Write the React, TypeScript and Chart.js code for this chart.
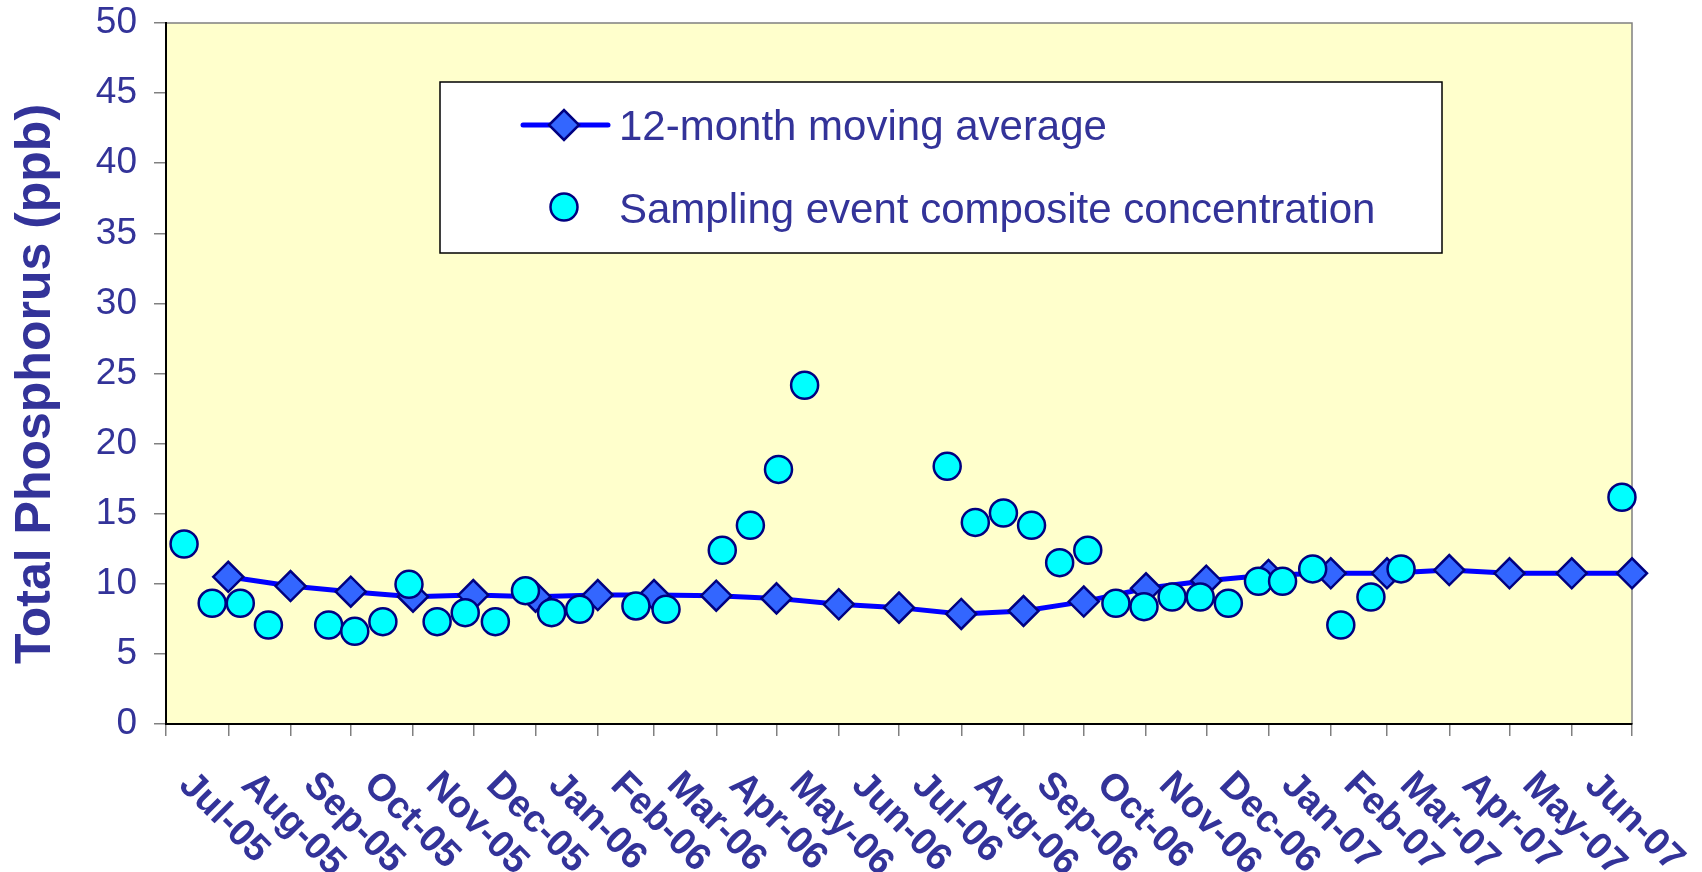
import React, { useEffect, useRef } from "react";
import { Chart, registerables } from "chart.js";

Chart.register(...registerables);

const AXIS_START = "2005-07-01";
const AXIS_END = "2007-07-01";

const monthTickDates = [
  "2005-07-01", "2005-08-01", "2005-09-01", "2005-10-01", "2005-11-01", "2005-12-01",
  "2006-01-01", "2006-02-01", "2006-03-01", "2006-04-01", "2006-05-01", "2006-06-01",
  "2006-07-01", "2006-08-01", "2006-09-01", "2006-10-01", "2006-11-01", "2006-12-01",
  "2007-01-01", "2007-02-01", "2007-03-01", "2007-04-01", "2007-05-01", "2007-06-01",
  "2007-07-01",
];
const monthLabels = [
  "Jul-05", "Aug-05", "Sep-05", "Oct-05", "Nov-05", "Dec-05",
  "Jan-06", "Feb-06", "Mar-06", "Apr-06", "May-06", "Jun-06",
  "Jul-06", "Aug-06", "Sep-06", "Oct-06", "Nov-06", "Dec-06",
  "Jan-07", "Feb-07", "Mar-07", "Apr-07", "May-07", "Jun-07",
];

const avgDates = [
  "2005-08-01", "2005-09-01", "2005-10-01", "2005-11-01", "2005-12-01", "2006-01-01",
  "2006-02-01", "2006-03-01", "2006-04-01", "2006-05-01", "2006-06-01", "2006-07-01",
  "2006-08-01", "2006-09-01", "2006-10-01", "2006-11-01", "2006-12-01", "2007-01-01",
  "2007-02-01", "2007-03-01", "2007-04-01", "2007-05-01", "2007-06-01", "2007-07-01",
];
const avgValues = [
  10.5, 9.84, 9.44, 9.08, 9.2, 9.08,
  9.2, 9.2, 9.15, 8.96, 8.54, 8.3,
  7.85, 8.06, 8.73, 9.68, 10.22, 10.63,
  10.75, 10.75, 10.98, 10.75, 10.75, 10.75,
];

const sampleDates = [
  "2005-07-10", "2005-07-24", "2005-08-07", "2005-08-21", "2005-09-20", "2005-10-03",
  "2005-10-17", "2005-10-30", "2005-11-13", "2005-11-27", "2005-12-12", "2005-12-27",
  "2006-01-09", "2006-01-23", "2006-02-20", "2006-03-07", "2006-04-04", "2006-04-18",
  "2006-05-02", "2006-05-15", "2006-07-25", "2006-08-08", "2006-08-22", "2006-09-05",
  "2006-09-19", "2006-10-03", "2006-10-17", "2006-10-31", "2006-11-14", "2006-11-28",
  "2006-12-12", "2006-12-27", "2007-01-08", "2007-01-23", "2007-02-06", "2007-02-21",
  "2007-03-08", "2007-06-26",
];
const sampleValues = [
  12.84, 8.61, 8.61, 7.06, 7.06, 6.61,
  7.3, 9.96, 7.3, 7.94, 7.3, 9.51,
  7.94, 8.18, 8.42, 8.18, 12.39, 14.17,
  18.16, 24.16, 18.38, 14.38, 15.05, 14.17,
  11.51, 12.39, 8.61, 8.37, 9.06, 9.06,
  8.61, 10.18, 10.18, 11.06, 7.06, 9.06,
  11.06, 16.17,
];

const yTickValues = [0, 5, 10, 15, 20, 25, 30, 35, 40, 45, 50];

const yTitle = "Total Phosphorus (ppb)";
const avgLabel = "12-month moving average";
const sampleLabel = "Sampling event composite concentration";

const FONT = '"Liberation Sans", Arial, sans-serif';
const TEXT = "#333399";

function dayOf(s: string): number {
  const [y, m, d] = s.split("-").map(Number);
  const [y0, m0, d0] = AXIS_START.split("-").map(Number);
  return (Date.UTC(y, m - 1, d) - Date.UTC(y0, m0 - 1, d0)) / 86400000;
}

function drawDiamond(ctx: CanvasRenderingContext2D, x: number, y: number, r: number) {
  ctx.beginPath();
  ctx.moveTo(x - r, y);
  ctx.lineTo(x, y - r);
  ctx.lineTo(x + r, y);
  ctx.lineTo(x, y + r);
  ctx.closePath();
  ctx.fillStyle = "#3366FF";
  ctx.fill();
  ctx.lineWidth = 2.5;
  ctx.strokeStyle = "#000080";
  ctx.stroke();
}

const decorPlugin = {
  id: "decor",
  beforeDraw(chart: any) {
    const { ctx, chartArea: a } = chart;
    ctx.save();
    ctx.fillStyle = "#FFFFCC";
    ctx.fillRect(a.left, a.top, a.right - a.left, a.bottom - a.top);
    ctx.strokeStyle = "#808080";
    ctx.lineWidth = 1.5;
    ctx.beginPath();
    ctx.moveTo(a.left, a.top);
    ctx.lineTo(a.right, a.top);
    ctx.lineTo(a.right, a.bottom);
    ctx.stroke();
    ctx.restore();
  },
  afterDatasetsDraw(chart: any) {
    const { ctx } = chart;
    const ds = chart.data.datasets;
    ctx.save();
    ctx.fillStyle = "#FFFFFF";
    ctx.fillRect(440, 82, 1002, 171);
    ctx.strokeStyle = "#000000";
    ctx.lineWidth = 1.5;
    ctx.strokeRect(440, 82, 1002, 171);
    ctx.strokeStyle = "#0000FF";
    ctx.lineWidth = 5;
    ctx.lineCap = "round";
    ctx.beginPath();
    ctx.moveTo(523, 125);
    ctx.lineTo(608, 125);
    ctx.stroke();
    drawDiamond(ctx, 564, 125, 15);
    ctx.beginPath();
    ctx.arc(564, 207, 13.5, 0, Math.PI * 2);
    ctx.fillStyle = "#00FFFF";
    ctx.fill();
    ctx.lineWidth = 2.5;
    ctx.strokeStyle = "#000080";
    ctx.stroke();
    ctx.fillStyle = TEXT;
    ctx.font = `42px ${FONT}`;
    ctx.textAlign = "left";
    ctx.textBaseline = "alphabetic";
    ctx.fillText(ds[0].label, 619, 140);
    ctx.fillText(ds[1].label, 619, 223);
    ctx.restore();
  },
  afterDraw(chart: any) {
    const { ctx, chartArea: a } = chart;
    const xs = chart.scales.x;
    ctx.save();
    ctx.fillStyle = TEXT;
    ctx.font = `bold 38px ${FONT}`;
    ctx.textAlign = "left";
    ctx.textBaseline = "middle";
    monthLabels.forEach((lab, i) => {
      const px = xs.getPixelForValue(dayOf(monthTickDates[i]));
      ctx.save();
      ctx.translate(px + 19, a.bottom + 55);
      ctx.rotate(Math.PI / 4);
      ctx.fillText(lab, 0, 0);
      ctx.restore();
    });
    ctx.font = `bold 50px ${FONT}`;
    ctx.textAlign = "center";
    ctx.textBaseline = "middle";
    ctx.translate(36, 384);
    ctx.rotate(-Math.PI / 2);
    ctx.fillText(yTitle, 0, 0);
    ctx.restore();
  },
};

export default function App() {
  const canvasRef = useRef<HTMLCanvasElement | null>(null);

  useEffect(() => {
    document.body.style.margin = "0";
    document.body.style.overflow = "hidden";
    const canvas = canvasRef.current;
    if (!canvas) return;
    const chart = new Chart(canvas, {
      type: "line",
      data: {
        datasets: [
          {
            label: avgLabel,
            data: avgDates.map((d, i) => ({ x: dayOf(d), y: avgValues[i] })),
            borderColor: "#0000FF",
            borderWidth: 5,
            pointStyle: "rectRot",
            pointRadius: 15,
            pointBackgroundColor: "#3366FF",
            pointBorderColor: "#000080",
            pointBorderWidth: 2.5,
            tension: 0,
            clip: false,
            order: 1,
          } as any,
          {
            label: sampleLabel,
            data: sampleDates.map((d, i) => ({ x: dayOf(d), y: sampleValues[i] })),
            showLine: false,
            pointStyle: "circle",
            pointRadius: 13.5,
            pointBackgroundColor: "#00FFFF",
            pointBorderColor: "#000080",
            pointBorderWidth: 2.5,
            clip: false,
            order: 0,
          } as any,
        ],
      },
      options: {
        responsive: false,
        animation: false,
        events: [],
        layout: { padding: { top: 23, right: 70, left: 0, bottom: 0 } },
        plugins: {
          legend: { display: false },
          tooltip: { enabled: false },
          title: { display: false },
        },
        scales: {
          x: {
            type: "linear",
            min: 0,
            max: dayOf(AXIS_END),
            afterBuildTicks: (s: any) => {
              s.ticks = monthTickDates.map((d) => ({ value: dayOf(d) }));
            },
            afterFit: (s: any) => {
              s.height = 148;
              s.paddingLeft = 0;
              s.paddingRight = 0;
            },
            ticks: { display: false },
            grid: {
              drawOnChartArea: false,
              drawTicks: true,
              tickLength: 12,
              color: "#808080",
              lineWidth: 1.5,
            },
            border: { display: true, color: "#000000", width: 2 },
          },
          y: {
            type: "linear",
            min: 0,
            max: 50,
            afterBuildTicks: (s: any) => {
              s.ticks = yTickValues.map((v) => ({ value: v }));
            },
            afterFit: (s: any) => {
              s.width = 166;
              s.paddingTop = 0;
              s.paddingBottom = 0;
            },
            ticks: {
              padding: 17,
              color: TEXT,
              font: { family: FONT, size: 37 },
            },
            grid: {
              drawOnChartArea: false,
              drawTicks: true,
              tickLength: 12,
              color: "#808080",
              lineWidth: 1.5,
            },
            border: { display: true, color: "#000000", width: 2 },
          },
        },
      } as any,
      plugins: [decorPlugin],
    });
    return () => chart.destroy();
  }, []);

  return (
    <div style={{ width: 1702, height: 872 }}>
      <canvas ref={canvasRef} width={1702} height={872} style={{ display: "block" }} />
    </div>
  );
}
